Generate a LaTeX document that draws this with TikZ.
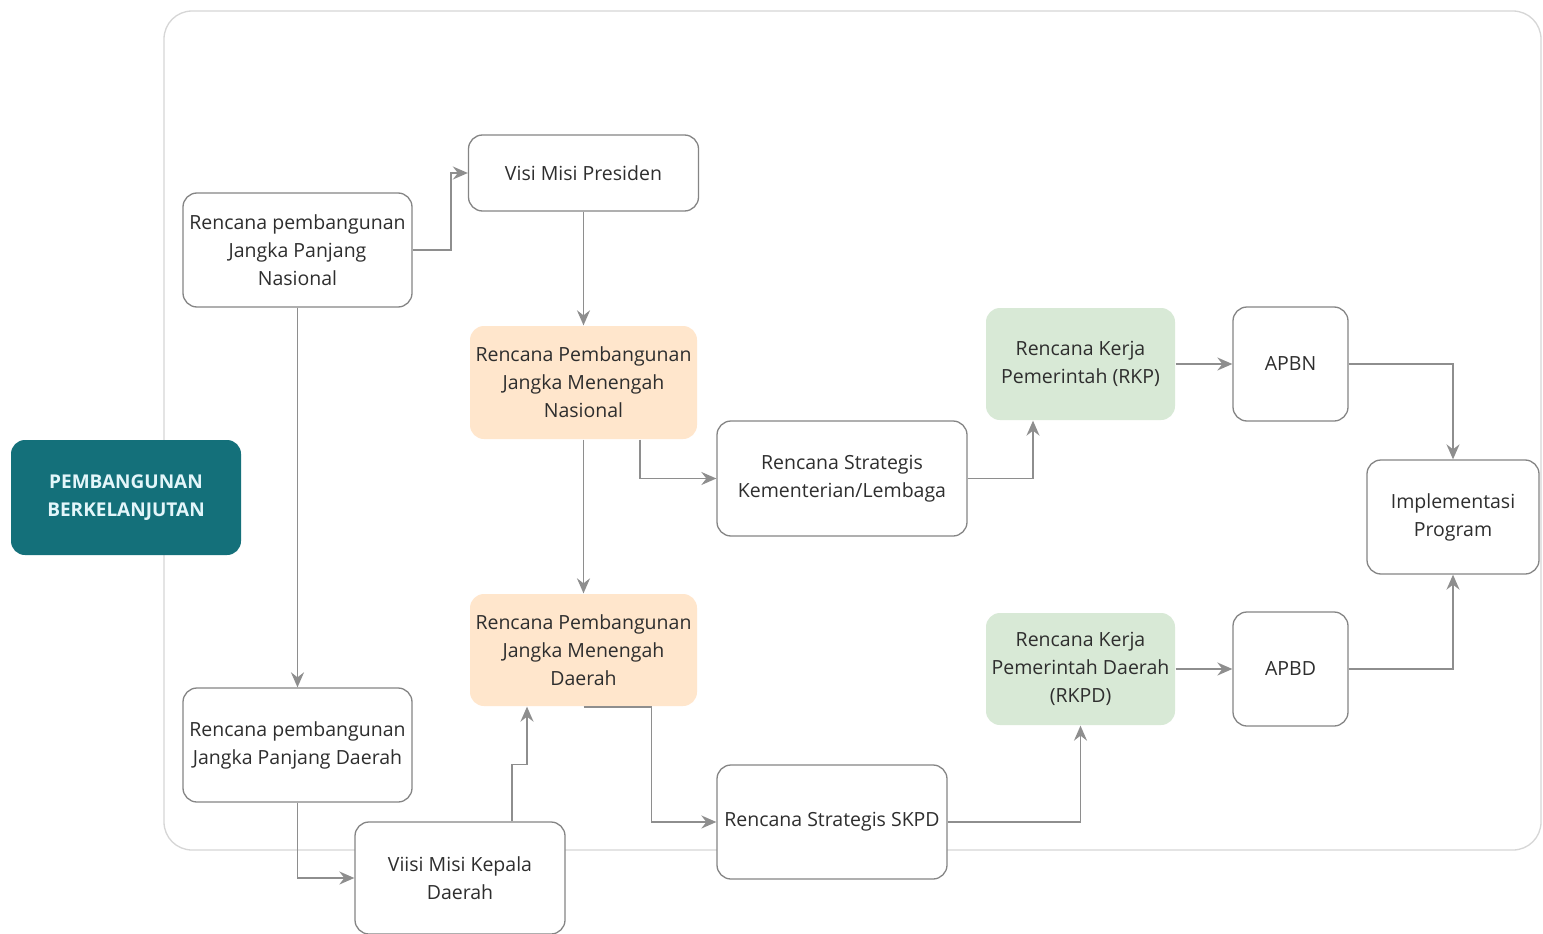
\documentclass[tikz,border=0pt]{standalone}
\usepackage{fontspec}
\setmainfont{Open Sans}
\usetikzlibrary{arrows.meta}
\definecolor{teal1}{HTML}{14707A}
\definecolor{tealtxt}{HTML}{E3F6FA}
\definecolor{orfill}{HTML}{FFE6CC}
\definecolor{grfill}{HTML}{D8E9D6}
\definecolor{boxline}{HTML}{858585}
\definecolor{arrline}{HTML}{8E8E8E}
\definecolor{frameline}{HTML}{D6D6D6}
\definecolor{txt}{HTML}{2E2E2E}
\tikzset{
  box/.style={draw=boxline, line width=1.3pt, fill=white, rounded corners=14pt,
    align=center, inner sep=0pt, text=txt,
    font=\fontsize{19.5}{28}\selectfont},
  orbox/.style={box, draw=none, fill=orfill},
  grbox/.style={box, draw=none, fill=grfill},
  conn/.style={draw=arrline, line width=1.7pt,
    -{Stealth[length=15pt,width=13pt,inset=5pt]}},
}
\begin{document}
\begin{tikzpicture}[x=1pt,y=-1pt]
\useasboundingbox (0,0) rectangle (1543,934);
\fill[white] (0,0) rectangle (1543,934);
\draw[frameline, line width=1.3pt, rounded corners=28pt] (164,11) rectangle (1541,850);

\node[box, fill=teal1, draw=none, text=tealtxt, minimum width=230pt, minimum height=115pt,
  font=\fontsize{19}{28}\selectfont\bfseries] (PB) at (126,497.5) {PEMBANGUNAN\\BERKELANJUTAN};

\node[box, minimum width=229pt, minimum height=114pt] (RPJPN) at (297.5,250) {Rencana pembangunan\\Jangka Panjang\\Nasional};
\node[box, minimum width=230pt, minimum height=76pt] (VMP) at (583.5,173) {Visi Misi Presiden};
\node[orbox, minimum width=227pt, minimum height=113pt] (RPJMN) at (583.5,382.5) {Rencana Pembangunan\\Jangka Menengah\\Nasional};
\node[box, minimum width=250pt, minimum height=115pt] (RSKL) at (842,478.5) {Rencana Strategis\\Kementerian/Lembaga};
\node[grbox, minimum width=189pt, minimum height=112pt] (RKP) at (1080.5,364) {Rencana Kerja\\Pemerintah (RKP)};
\node[box, minimum width=115pt, minimum height=114pt] (APBN) at (1290.5,364) {APBN};
\node[box, minimum width=172pt, minimum height=114pt] (IP) at (1453,517) {Implementasi\\Program};
\node[orbox, minimum width=227pt, minimum height=112pt] (RPJMD) at (583.5,650) {Rencana Pembangunan\\Jangka Menengah\\Daerah};
\node[grbox, minimum width=189pt, minimum height=112pt] (RKPD) at (1080.5,669) {Rencana Kerja\\Pemerintah Daerah\\(RKPD)};
\node[box, minimum width=115pt, minimum height=114pt] (APBD) at (1290.5,669) {APBD};
\node[box, minimum width=229pt, minimum height=114pt] (RPJPD) at (297.5,745) {Rencana pembangunan\\Jangka Panjang Daerah};
\node[box, minimum width=210pt, minimum height=112pt] (VMKD) at (460,878) {Viisi Misi Kepala\\Daerah};
\node[box, minimum width=230pt, minimum height=114pt] (RSSKPD) at (832,822) {Rencana Strategis SKPD};

\draw[conn] (RPJPN.east) -- ++(38,0) |- (VMP.west);
\draw[conn] (VMP.south) -- (RPJMN.north);
\draw[conn] (RPJMN.south) -- (RPJMD.north);
\draw[conn] ([xshift=56.5pt]RPJMN.south) |- (RSKL.west);
\draw[conn] (RSKL.east) -| ([xshift=-47.5pt]RKP.south);
\draw[conn] (RKP.east) -- (APBN.west);
\draw[conn] (APBN.east) -| (IP.north);
\draw[conn] (APBD.east) -| (IP.south);
\draw[conn] (RKPD.east) -- (APBD.west);
\draw[conn] (RSSKPD.east) -| (RKPD.south);
\draw[conn] (RPJMD.south) -- ++(68,0) |- (RSSKPD.west);
\draw[conn] ([xshift=52pt]VMKD.north) -- ++(0,-57) -| ([xshift=-56.5pt]RPJMD.south);
\draw[conn] (RPJPN.south) -- (RPJPD.north);
\draw[conn] (RPJPD.south) |- (VMKD.west);
\end{tikzpicture}
\end{document}
